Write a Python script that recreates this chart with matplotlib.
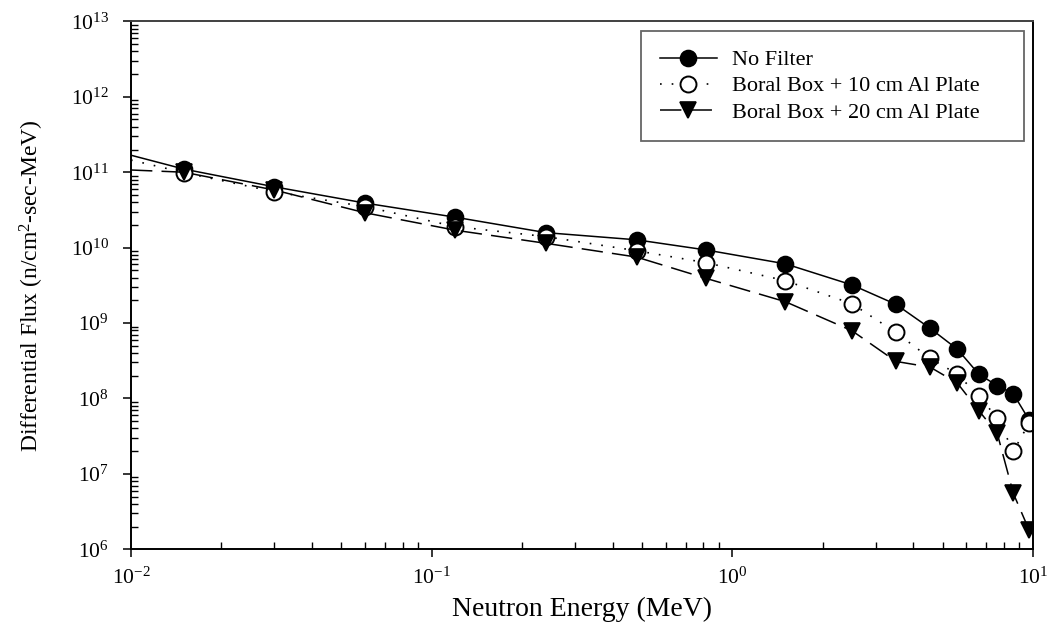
import matplotlib
matplotlib.use("Agg")
import matplotlib.pyplot as plt
from matplotlib.ticker import (FixedLocator, LogLocator, LogFormatterSciNotation,
                               NullFormatter)

plt.rcParams["font.family"] = ["Liberation Serif", "DejaVu Serif"]
plt.rcParams["mathtext.fontset"] = "custom"
plt.rcParams["mathtext.rm"] = "Liberation Serif"
plt.rcParams["mathtext.it"] = "Liberation Serif:italic"
plt.rcParams["mathtext.bf"] = "Liberation Serif:bold"
plt.rcParams["axes.unicode_minus"] = False

# Neutron energy grid (MeV); the first and last entries are the curve ends at the axis edges
energy = [0.01, 0.015, 0.03, 0.06, 0.12, 0.24, 0.48, 0.82, 1.5, 2.5, 3.5,
          4.55, 5.6, 6.6, 7.6, 8.6, 9.7, 10.0]

# Differential flux (n/cm^2-sec-MeV)
no_filter = [1.68e11, 1.10e11, 6.4e10, 3.9e10, 2.53e10, 1.58e10, 1.27e10,
             9.3e9, 6.1e9, 3.2e9, 1.77e9, 8.5e8, 4.5e8, 2.1e8, 1.48e8,
             1.15e8, 5.2e7, 3.5e7]
boral_10cm = [1.45e11, 0.99e11, 5.5e10, 3.5e10, 1.9e10, 1.40e10, 9.1e9,
              6.3e9, 3.65e9, 1.8e9, 7.5e8, 3.4e8, 2.1e8, 1.08e8, 5.5e7,
              2.0e7, 4.7e7, 4.0e7]
boral_20cm = [1.07e11, 1.0e11, 5.8e10, 2.9e10, 1.7e10, 1.14e10, 7.5e9,
              3.9e9, 1.92e9, 7.9e8, 3.1e8, 2.6e8, 1.6e8, 6.9e7, 3.45e7,
              5.5e6, 1.8e6, 1.4e6]

labels = ["No Filter", "Boral Box + 10 cm Al Plate", "Boral Box + 20 cm Al Plate"]

# Labelled decades on each axis
x_decades = [1e-2, 1e-1, 1e0, 1e1]
y_decades = [1e6, 1e7, 1e8, 1e9, 1e10, 1e11, 1e12, 1e13]

fig = plt.figure(figsize=(10.52, 6.38), dpi=100)
ax = fig.add_axes([0.1245, 0.139, 0.8575, 0.8275])

marks = slice(1, -1)
ax.plot(energy, no_filter, color="black", lw=1.1, ls="-",
        marker="o", ms=11.5, mfc="black", mec="black", mew=1.2,
        markevery=marks, label=labels[0])
ax.plot(energy, boral_10cm, color="black", lw=1.2, ls=(0, (1, 6)),
        marker="o", ms=11.5, mfc="white", mec="black", mew=1.4,
        markevery=marks, label=labels[1])
ax.plot(energy, boral_20cm, color="black", lw=1.1, ls=(0, (14, 6)),
        marker="v", ms=11.5, mfc="black", mec="black", mew=1.2,
        markevery=marks, label=labels[2])

ax.set_xscale("log")
ax.set_yscale("log")
ax.set_xlim(x_decades[0], x_decades[-1])
ax.set_ylim(y_decades[0], y_decades[-1])

ax.xaxis.set_major_locator(FixedLocator(x_decades))
ax.yaxis.set_major_locator(FixedLocator(y_decades))
ax.xaxis.set_minor_locator(LogLocator(base=10, subs=range(2, 10), numticks=20))
ax.yaxis.set_minor_locator(LogLocator(base=10, subs=range(2, 10), numticks=20))
ax.xaxis.set_major_formatter(LogFormatterSciNotation())
ax.yaxis.set_major_formatter(LogFormatterSciNotation())
ax.xaxis.set_minor_formatter(NullFormatter())
ax.yaxis.set_minor_formatter(NullFormatter())

ax.tick_params(which="major", direction="out", length=6, width=1.1,
               labelsize=15.5, color="black")
ax.tick_params(which="minor", direction="in", length=5, width=1.0, color="black")
ax.tick_params(axis="y", which="major", pad=10)
ax.tick_params(axis="x", which="major", pad=7)

for side in ["left", "bottom", "right", "top"]:
    ax.spines[side].set_linewidth(1.4)
    ax.spines[side].set_color("black")
ax.spines["top"].set_color("#404040")

ax.set_xlabel("Neutron Energy (MeV)", fontsize=20, labelpad=6)
ax.set_ylabel("Differential Flux (n/cm$^2$-sec-MeV)", fontsize=17, labelpad=18)

leg = ax.legend(loc="upper left", bbox_to_anchor=(0.5654, 0.982, 0.4246, 0.0),
                mode="expand", fontsize=16,
                frameon=True, fancybox=False, edgecolor="#404040",
                handlelength=2.55, handletextpad=0.7, numpoints=1,
                borderpad=0.85, labelspacing=0.25, borderaxespad=0)
leg.get_frame().set_linewidth(1.3)

fig.savefig("out.png", dpi=100, facecolor="white")
